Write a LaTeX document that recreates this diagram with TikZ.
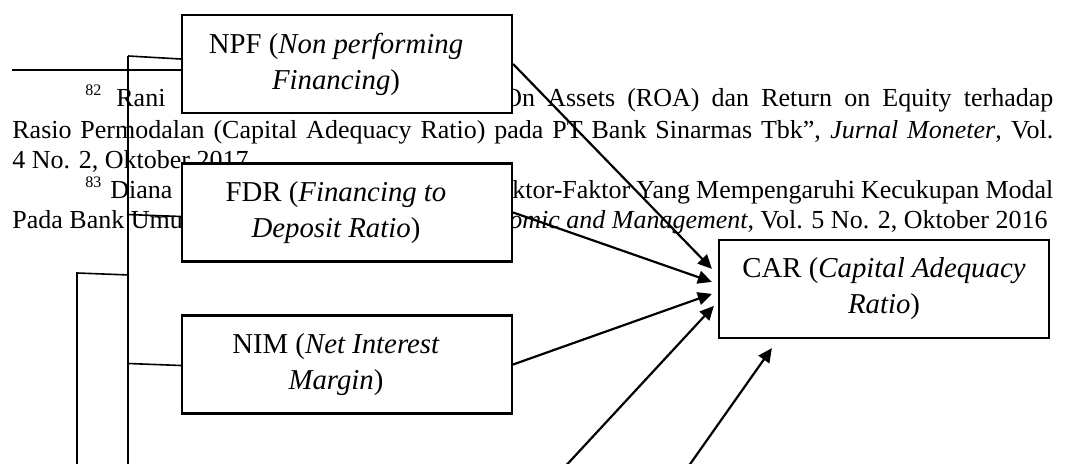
\documentclass[tikz,border=0pt]{standalone}
\usepackage{fontspec}
\setmainfont{Liberation Serif}
\usetikzlibrary{arrows.meta, positioning, calc}

\begin{document}
\begin{tikzpicture}[
    x=0.5pt, y=-0.5pt,
    var box/.style={draw, line width=1.1pt, fill=white, minimum width=165pt, minimum height=49pt, inner sep=0pt, align=center, font=\fontsize{14.4}{18}\selectfont},
    fn text/.style={anchor=base west, inner sep=0pt, font=\fontsize{13}{15}\selectfont},
    fn mark/.style={anchor=base west, inner sep=0pt, font=\fontsize{8}{9}\selectfont},
    arrow/.style={line width=1.1pt, -{Triangle[length=7pt, width=6.5pt]}},
    link/.style={line width=0.8pt},
    spine/.style={line width=0.55pt},
]

\useasboundingbox (0,0) rectangle (1078,464);
\clip (0,0) rectangle (1078,464);

% Footnotes behind the figure
\node[fn mark] (mark82) at (85,96) {82};
\node[fn text] (rani) at (116,107) {Rani};
\node[fn text] (fnA1) at (503,107) {\makebox[275pt][s]{On Assets (ROA) dan Return on Equity terhadap}};
\node[fn text] (fnA2) at (12,139) {\makebox[520.5pt][s]{Rasio Permodalan (Capital Adequacy Ratio) pada PT Bank Sinarmas Tbk”, \textit{Jurnal Moneter}, Vol.}};
\node[fn text] (fnA3) at (12,169) {4 No. 2, Oktober 2017};
\node[fn mark] (mark83) at (85,188) {83};
\node[fn text] (diana) at (110,199) {Diana};
\node[fn text] (fnB1) at (512,199) {\makebox[270.5pt][s]{ktor-Faktor Yang Mempengaruhi Kecukupan Modal}};
\node[fn text] (fnB2) at (12,229) {Pada Bank Umu};
\node[fn text] (fnB3) at (509,229) {\textit{omic and Management}, Vol. 5 No. 2, Oktober 2016};

% Free ends
\coordinate (rule start) at (12,70);
\coordinate (spineA top) at (128,56);
\coordinate (spineA bottom) at (128,480);
\coordinate (spineB join) at (129,275);
\coordinate (spineB top) at (77,273);
\coordinate (spineB bottom) at (77,480);
\coordinate (lower src) at (536,498);
\coordinate (outer src) at (669,494);

% Variable boxes
\node[var box] (npf) at (347,64) {\hspace*{-11pt}NPF (\textit{Non performing}\\\hspace*{-11pt}\textit{Financing})};
\node[var box] (fdr) at (347,212.5) {\hspace*{-11pt}FDR (\textit{Financing to}\\\hspace*{-11pt}\textit{Deposit Ratio})};
\node[var box] (nim) at (347,364.5) {\hspace*{-11pt}NIM (\textit{Net Interest}\\\hspace*{-11pt}\textit{Margin})};
\node[var box] (car) at (884,289) {CAR (\textit{Capital Adequacy}\\\textit{Ratio})};

% Footnote rule and left lines
\draw[spine] (rule start) -- (rule start -| npf.west);
\draw[link] ($(npf.west)+(0,-5)$) -- (spineA top);
\draw[spine] (spineA top) -- (spineA bottom);
\draw[link] ($(fdr.west)+(0,4)$) -- ($(fdr.west)+(-54,2)$);
\draw[link] (spineB join) -- (spineB top) -- (spineB bottom);
\draw[link] ($(nim.west)+(0,1)$) -- ($(nim.west)+(-53,-1)$);

% Arrows into CAR
\draw[arrow] (npf.east) -- ($(car.north west)+(-6,30)$);
\draw[arrow] (fdr.east) -- ($(car.north west)+(-6,43)$);
\draw[arrow] (nim.east) -- ($(car.north west)+(-6,55)$);
\draw[arrow] (lower src) -- ($(car.north west)+(-4,67)$);
\draw[arrow] (outer src) -- ($(car.south west)+(54,9)$);

\end{tikzpicture}
\end{document}
